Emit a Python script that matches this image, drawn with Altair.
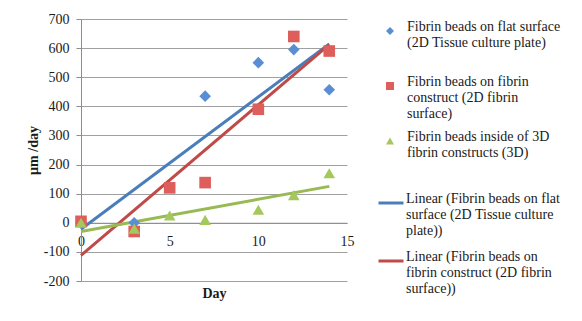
import altair as alt
import pandas as pd

# ---- data ----
point_names = [
    "Fibrin beads on flat surface|(2D Tissue culture plate)| ",
    "Fibrin beads on fibrin|construct (2D fibrin|surface)",
    "Fibrin beads inside of 3D|fibrin constructs (3D)| ",
]
trend_names = [
    "Linear (Fibrin beads on flat|surface (2D Tissue culture|plate))",
    "Linear (Fibrin beads on|fibrin construct (2D fibrin|surface))",
]

flat_day = [0, 3, 7, 10, 12, 14]
flat_val = [0, 0, 435, 550, 595, 457]

fibrin_day = [0, 3, 5, 7, 10, 12, 14]
fibrin_val = [5, -30, 120, 138, 390, 640, 590]

inside_day = [0, 3, 5, 7, 10, 12, 14]
inside_val = [0, -20, 25, 10, 45, 95, 170]

trend_day = [0, 14]
flat_trend = [-22, 614]
fibrin_trend = [-112, 612]
inside_trend = [-30, 125]

x_ticks = [0, 5, 10, 15]
y_ticks = [-200, -100, 0, 100, 200, 300, 400, 500, 600, 700]

# ---- tables ----
pts = pd.concat([
    pd.DataFrame({"day": flat_day, "val": flat_val, "series": point_names[0]}),
    pd.DataFrame({"day": fibrin_day, "val": fibrin_val, "series": point_names[1]}),
    pd.DataFrame({"day": inside_day, "val": inside_val, "series": point_names[2]}),
], ignore_index=True)

trends = pd.concat([
    pd.DataFrame({"day": trend_day, "val": flat_trend, "trend": trend_names[0]}),
    pd.DataFrame({"day": trend_day, "val": fibrin_trend, "trend": trend_names[1]}),
], ignore_index=True)

green_tr = pd.DataFrame({"day": trend_day, "val": inside_trend})

W, H = 266, 262
FONT = "Liberation Serif"
TXT = "#1a1a1a"

x_scale = alt.Scale(domain=[0, 15], nice=False, zero=False)
y_scale = alt.Scale(domain=[-200, 700], nice=False)

pt_color = alt.Scale(domain=point_names, range=["#5a8ed4", "#dd5e5a", "#a5c85c"])
pt_shape = alt.Scale(domain=point_names, range=["diamond", "square", "triangle-up"])
tr_color = alt.Scale(domain=trend_names, range=["#4a7ebb", "#be4b48"])

common_legend = dict(
    title=None,
    orient="none",
    labelExpr="split(datum.label, '|')",
    labelFont=FONT,
    labelFontSize=14,
    labelColor=TXT,
    labelLimit=400,
    labelBaseline="alphabetic",
    padding=0,
)

pt_legend = alt.Legend(
    legendX=302, legendY=5, labelOffset=10, rowPadding=9,
    symbolSize=64, symbolStrokeWidth=0, **common_legend,
)
tr_legend = alt.Legend(
    legendX=296, legendY=170, labelOffset=1, rowPadding=9,
    symbolType="stroke", symbolSize=625, symbolStrokeWidth=3, **common_legend,
)

x_axis = alt.Axis(
    title="Day",
    values=x_ticks,
    grid=False,
    ticks=False,
    offset=-H * 200 / 900,
    domainColor="#8c8c8c",
    labelFont=FONT,
    labelFontSize=14,
    labelColor=TXT,
    labelPadding=12,
    labelFlush=False,
    titleFont=FONT,
    titleFontSize=14,
    titleFontWeight="bold",
    titleColor=TXT,
    titleY=71,
    titleBaseline="middle",
)
y_axis = alt.Axis(
    title="µm /day",
    values=y_ticks,
    labelExpr="toString(datum.value)",
    tickCount=10,
    grid=True,
    gridColor="#a0a0a0",
    tickColor="#8c8c8c",
    tickSize=5,
    domainColor="#8c8c8c",
    labelFont=FONT,
    labelFontSize=14,
    labelColor=TXT,
    labelPadding=7,
    labelOverlap=False,
    labelFlush=False,
    titleFont=FONT,
    titleFontSize=14,
    titleFontWeight="bold",
    titleColor=TXT,
    titleX=-48,
    titleY=H / 2,
    titleAngle=-90,
    titleBaseline="middle",
    titleAlign="center",
)

X = alt.X("day:Q", scale=x_scale, axis=x_axis)
Y = alt.Y("val:Q", scale=y_scale, axis=y_axis)

trend_layer = alt.Chart(trends).mark_line(strokeWidth=3).encode(
    x=X, y=Y,
    color=alt.Color("trend:N", scale=tr_color, legend=tr_legend, sort=trend_names),
    detail="trend:N",
)

green_layer = alt.Chart(green_tr).mark_line(strokeWidth=3, color="#98b954").encode(
    x=X, y=Y,
)

point_layer = alt.Chart(pts).mark_point(
    filled=True, opacity=1, size=135, strokeWidth=0
).encode(
    x=X, y=Y,
    color=alt.Color("series:N", scale=pt_color, legend=pt_legend, sort=point_names),
    shape=alt.Shape("series:N", scale=pt_shape, legend=pt_legend, sort=point_names),
)

chart = alt.layer(trend_layer, green_layer, point_layer).resolve_scale(
    color="independent", shape="independent"
).resolve_legend(
    color="independent", shape="independent"
).properties(
    width=W,
    height=H,
    autosize=alt.AutoSizeParams(type="none"),
    padding={"left": 81, "top": 19, "right": 235, "bottom": 40},
    background="white",
).configure_view(
    stroke=None
).configure_legend(
    labelFont=FONT, labelFontSize=14, labelColor=TXT
)

chart.save("out.html", embed_options={"renderer": "svg", "actions": False})
